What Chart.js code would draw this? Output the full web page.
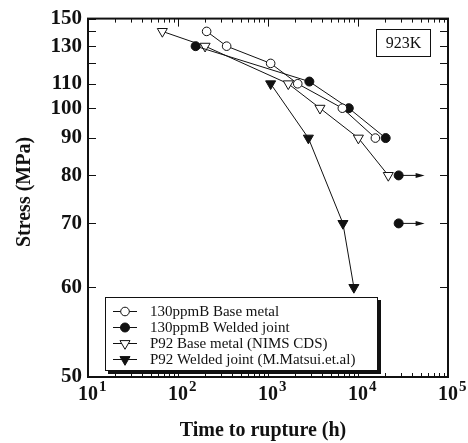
<!DOCTYPE html>
<html>
<head>
<meta charset="utf-8">
<script src="https://cdn.jsdelivr.net/npm/chart.js@4.4.1/dist/chart.umd.min.js"></script>
<style>
  html, body { margin: 0; padding: 0; background: #fff; }
  canvas { display: block; }
</style>
</head>
<body>
<canvas id="chart" width="468" height="443"></canvas>
<script>
// Datos (tiempo en h, tensión en MPa)
const baseTime = [208, 347, 1070, 2140, 6700, 15600];
const baseStress = [140, 130, 120, 110, 100, 90];
const weldTime = [157, 2880, 7900, 20300];
const weldStress = [130, 111, 100, 90];
const runoutTime = [28300, 28300];
const runoutStress = [80, 70];
const runoutEnd = 55000;
const p92BaseTime = [67, 200, 1680, 3780, 10100, 21700];
const p92BaseStress = [140, 130, 110, 100, 90, 80];
const p92WeldTime = [1070, 2810, 6800, 9000];
const p92WeldStress = [110, 90, 70, 60];

const xDecades = [10, 100, 1000, 10000, 100000];
const xMinor = [2, 3, 4, 5, 6, 7, 8, 9];
const yTicks = [50, 60, 70, 80, 90, 100, 110, 120, 130, 140, 150];
const yLabeled = [50, 60, 70, 80, 90, 100, 110, 130, 150];

const serif = "'Liberation Serif', 'Times New Roman', serif";
const ink = '#111';

const zip = (xs, ys) => xs.map((v, i) => ({ x: v, y: ys[i] }));

// Escala recíproca (1/σ) para el eje de tensión
class ReciprocalScale extends Chart.LinearScale {
  getPixelForValue(value) {
    const lo = 1 / this.min, hi = 1 / this.max;
    return this.getPixelForDecimal((lo - 1 / value) / (lo - hi));
  }
  getValueForPixel(pixel) {
    const lo = 1 / this.min, hi = 1 / this.max;
    return 1 / (lo - this.getDecimalForPixel(pixel) * (lo - hi));
  }
}
ReciprocalScale.id = 'reciprocal';
ReciprocalScale.defaults = {};
Chart.register(ReciprocalScale);

const marker = (style, fill, radius, rotation) => ({
  pointStyle: style,
  pointRotation: rotation || 0,
  pointRadius: radius,
  pointHoverRadius: radius,
  pointBackgroundColor: fill,
  pointBorderColor: ink,
  pointBorderWidth: 1
});

const datasets = [
  { label: '130ppmB Base metal', data: zip(baseTime, baseStress), showLine: true,
    borderColor: ink, borderWidth: 1, ...marker('circle', '#fff', 4.3) },
  { label: '130ppmB Welded joint', data: zip(weldTime, weldStress), showLine: true,
    borderColor: ink, borderWidth: 1, ...marker('circle', ink, 4.5) },
  { label: 'P92 Base metal (NIMS CDS)', data: zip(p92BaseTime, p92BaseStress), showLine: true,
    borderColor: ink, borderWidth: 1, ...marker('triangle', '#fff', 5.8, 180) },
  { label: 'P92 Welded joint (M.Matsui.et.al)', data: zip(p92WeldTime, p92WeldStress), showLine: true,
    borderColor: ink, borderWidth: 1, ...marker('triangle', ink, 5.8, 180) },
  { label: 'runout', hideLegend: true, data: zip(runoutTime, runoutStress), showLine: false,
    ...marker('circle', ink, 4.5) }
];

// Decoración: marco, marcas internas, etiquetas 10^n, títulos, leyenda, flechas
const decor = {
  id: 'decor',
  afterDraw(chart) {
    const { ctx, chartArea: a, scales: { x, y } } = chart;
    ctx.save();
    ctx.strokeStyle = ink;
    ctx.fillStyle = ink;

    // marcas del eje y (izquierda y derecha)
    ctx.lineWidth = 1;
    ctx.beginPath();
    yTicks.forEach(v => {
      const py = Math.round(y.getPixelForValue(v)) + 0.5;
      ctx.moveTo(a.left, py); ctx.lineTo(a.left + 8, py);
      ctx.moveTo(a.right, py); ctx.lineTo(a.right - 8, py);
    });
    // marcas del eje x (abajo y arriba)
    xDecades.forEach(d => {
      [1].concat(xMinor).forEach(k => {
        const v = d * k;
        if (v > x.max) return;
        const px = Math.round(x.getPixelForValue(v)) + 0.5;
        const len = k === 1 ? 8 : 4;
        ctx.moveTo(px, a.bottom); ctx.lineTo(px, a.bottom - len);
        ctx.moveTo(px, a.top); ctx.lineTo(px, a.top + len);
      });
    });
    ctx.stroke();

    // marco
    ctx.lineWidth = 2;
    ctx.strokeRect(a.left, a.top, a.right - a.left, a.bottom - a.top);

    // etiquetas 10^n
    ctx.textBaseline = 'alphabetic';
    xDecades.forEach(d => {
      const px = x.getPixelForValue(d);
      ctx.font = `bold 20px ${serif}`;
      ctx.textAlign = 'center';
      ctx.fillText('10', px, 400);
      const w = ctx.measureText('10').width;
      ctx.font = `bold 15px ${serif}`;
      ctx.textAlign = 'left';
      ctx.fillText(String(Math.round(Math.log10(d))), px + w / 2 + 1, 391);
    });

    // títulos de ejes
    ctx.font = `bold 20px ${serif}`;
    ctx.textAlign = 'center';
    ctx.fillText('Time to rupture (h)', 263, 436);
    ctx.save();
    ctx.translate(29.5, 192);
    ctx.rotate(-Math.PI / 2);
    ctx.fillText('Stress (MPa)', 0, 0);
    ctx.restore();

    // flechas de ensayos en curso
    ctx.lineWidth = 1;
    runoutTime.forEach((t, i) => {
      const py = y.getPixelForValue(runoutStress[i]);
      const x0 = x.getPixelForValue(t);
      const x1 = x.getPixelForValue(runoutEnd);
      ctx.beginPath();
      ctx.moveTo(x0, py); ctx.lineTo(x1 - 6, py);
      ctx.stroke();
      ctx.beginPath();
      ctx.moveTo(x1, py); ctx.lineTo(x1 - 9, py - 2.5); ctx.lineTo(x1 - 9, py + 2.5);
      ctx.closePath();
      ctx.fill();
    });

    // cuadro de temperatura
    ctx.lineWidth = 1;
    ctx.fillStyle = '#fff';
    ctx.fillRect(376, 29, 54, 27);
    ctx.strokeRect(376.5, 29.5, 54, 27);
    ctx.fillStyle = ink;
    ctx.font = `16px ${serif}`;
    ctx.textBaseline = 'middle';
    ctx.fillText('923K', 403.5, 43.5);

    // leyenda con sombra
    const lx = 105, ly = 297, lw = 273, lh = 74;
    ctx.fillRect(lx + 3, ly + 3, lw, lh);
    ctx.fillStyle = '#fff';
    ctx.fillRect(lx, ly, lw, lh);
    ctx.strokeRect(lx + 0.5, ly + 0.5, lw - 1, lh - 1);
    ctx.font = `15px ${serif}`;
    ctx.textAlign = 'left';
    ctx.textBaseline = 'middle';
    let row = 0;
    chart.data.datasets.forEach(ds => {
      if (ds.hideLegend) return;
      const ry = 311 + row * 16;
      ctx.strokeStyle = ink;
      ctx.beginPath();
      ctx.moveTo(113, ry + 0.5); ctx.lineTo(137, ry + 0.5);
      ctx.stroke();
      ctx.fillStyle = ds.pointBackgroundColor;
      Chart.helpers.drawPoint(ctx, {
        pointStyle: ds.pointStyle, rotation: ds.pointRotation,
        radius: ds.pointRadius, borderWidth: 1
      }, 125, ry + 0.5);
      ctx.fillStyle = ink;
      ctx.fillText(ds.label, 150, ry + 1);
      row++;
    });
    ctx.restore();
  }
};

new Chart(document.getElementById('chart'), {
  type: 'scatter',
  data: { datasets },
  options: {
    responsive: false,
    animation: false,
    layout: { padding: { top: 18, right: 20, left: 0, bottom: 0 } },
    plugins: { legend: { display: false }, tooltip: { enabled: false } },
    scales: {
      x: {
        type: 'logarithmic',
        min: 10,
        max: 100000,
        grid: { display: false },
        border: { display: false },
        ticks: { display: false },
        afterFit: s => { s.height = 66; }
      },
      y: {
        type: 'reciprocal',
        min: 50,
        max: 150,
        grid: { display: false, drawTicks: false },
        border: { display: false },
        afterBuildTicks: s => { s.ticks = yTicks.map(v => ({ value: v })); },
        ticks: {
          autoSkip: false,
          padding: 6,
          color: ink,
          font: { family: serif, size: 21, weight: 'bold' },
          callback: v => yLabeled.includes(v) ? String(v) : ''
        },
        afterFit: s => { s.width = 88; }
      }
    }
  },
  plugins: [decor]
});
</script>
</body>
</html>
